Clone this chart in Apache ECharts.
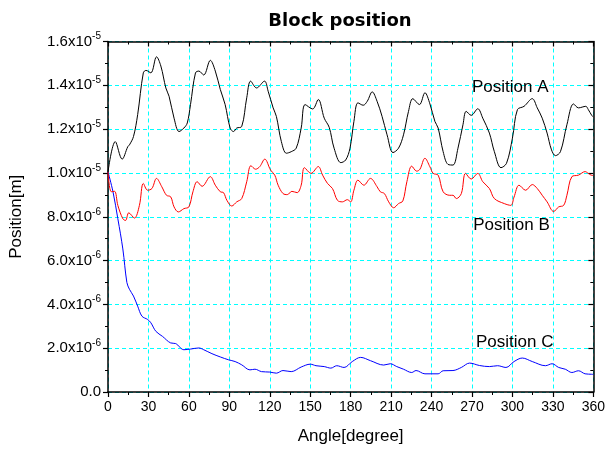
<!DOCTYPE html>
<html>
<head>
<meta charset="utf-8">
<script src="https://cdn.jsdelivr.net/npm/echarts@6/dist/echarts.min.js"></script>
<style>
  html, body { margin: 0; padding: 0; background: #fff; }
  #chart { width: 608px; height: 450px; }
</style>
</head>
<body>
<div id="chart"></div>
<script>
// Block displacement vs. crank angle; values are in units of 1e-6 m.
var anglesA = [0, 5.4, 10.5, 14.7, 15.9, 18.9, 22, 26.2, 28.2, 31.8, 36, 39.2, 42.9, 45.3, 49, 52.7, 56.3, 58.8,
  61.2, 64.9, 67.4, 71, 75.9, 79.6, 83.3, 86.9, 90.6, 93.1, 95.5, 99.2, 102.9, 105.8, 110.2, 116.1, 118.8,
  122.5, 124.9, 128.6, 132.3, 135.9, 139.6, 143.3, 146.2, 151.8, 156, 160.4, 164.1, 167.7, 172.7, 176.3,
  179.5, 182.4, 185.4, 189.3, 192.3, 196, 199.6, 203.3, 207, 211.4, 215.5, 219.2, 222.9, 226.1, 231, 235.1,
  238.8, 242.5, 244.9, 248.6, 252.2, 255.9, 259.6, 263.3, 265.7, 269.4, 274.3, 278, 282.9, 286.6, 291.5,
  295.6, 300, 303.7, 308.6, 314.7, 318.4, 322.1, 325.7, 329, 331.9, 335.6, 340.4, 345.3, 349, 354.4, 356.3,
  358.8, 360];
var valuesA = [10.05, 11.43, 10.63, 11.2, 11.28, 11.66, 12.66, 14.57, 14.68, 14.57, 15.3, 14.88, 13.88, 13.5,
  12.5, 11.89, 12.05, 12.28, 13.12, 14.57, 14.65, 14.47, 15.14, 14.65, 13.81, 13.12, 12.05, 11.89, 12.05,
  12.12, 13.43, 14.19, 13.88, 14.19, 13.73, 12.97, 12.58, 11.43, 10.9, 10.97, 11.13, 12.05, 13.12, 12.92,
  13.35, 12.5, 12.08, 11.13, 10.47, 10.59, 11.13, 12.35, 13.2, 13.09, 13.27, 13.7, 13.27, 12.58, 11.74,
  10.93, 11.13, 11.74, 12.81, 13.39, 13.12, 13.66, 13.15, 12.35, 12.05, 10.97, 10.39, 10.36, 11.13, 12.2,
  12.81, 12.63, 12.93, 12.5, 11.82, 10.97, 10.24, 10.44, 11.59, 12.89, 13.04, 13.39, 12.97, 12.5, 11.82,
  11.05, 10.79, 10.97, 12.2, 13.15, 12.97, 13.04, 12.89, 12.63, 12.55];

var anglesB = [0, 2.4, 4.9, 7.3, 11, 13, 15.4, 19.6, 23.3, 26.2, 29.4, 32.6, 36, 39.9, 43.4, 46.5, 49, 52.2,
  56.3, 60, 63, 66.1, 69.8, 75.9, 79.6, 83.3, 85.7, 88.2, 91.8, 95.5, 99.2, 102.9, 106, 109.5, 112.6, 116.3,
  120.6, 123.7, 126.2, 129.8, 133, 136.4, 140.3, 143.3, 145.7, 150.6, 156, 159.2, 162.8, 166.5, 170.2,
  173.9, 177.5, 180, 182.4, 185.4, 189.8, 194.7, 199.6, 202, 205, 208.2, 211.9, 215.5, 218.7, 221.7, 225.3,
  229, 231.4, 235.1, 238.8, 241.2, 244.9, 248.6, 253.5, 255.9, 258.4, 262.1, 265.2, 269.4, 274.3, 278,
  282.9, 286.6, 294, 298.8, 301.2, 304.9, 309.8, 314.7, 318.4, 322.1, 325.7, 330.6, 334.3, 338, 340.4,
  344.1, 349, 353.9, 356.3, 358.3, 360];
var valuesB = [10.05, 9.14, 9.16, 8.52, 7.91, 7.83, 8.18, 7.94, 8.52, 9.52, 9.21, 9.29, 9.75, 9.37, 8.98,
  8.91, 8.45, 8.22, 8.37, 8.45, 9.14, 9.6, 9.39, 9.83, 9.44, 9.14, 9.1, 8.75, 8.49, 8.68, 8.83, 9.6, 10.33,
  10.17, 10.29, 10.63, 10.13, 9.9, 9.44, 9.06, 9.01, 9.16, 9.1, 9.44, 10.24, 9.98, 10.29, 9.9, 9.52, 9.29,
  8.75, 8.68, 8.78, 8.68, 9.21, 9.67, 9.44, 9.75, 9.37, 9.14, 9.06, 8.68, 8.41, 8.6, 8.72, 9.6, 10.31,
  10.08, 10.17, 10.67, 10.28, 9.98, 9.9, 9.14, 8.98, 8.98, 8.83, 9.06, 9.98, 9.72, 9.98, 9.6, 9.29, 8.83,
  8.6, 8.52, 8.9, 9.44, 9.21, 9.47, 9.29, 8.98, 8.68, 8.24, 8.45, 8.52, 8.98, 9.83, 9.9, 10.06, 9.98, 9.9, 9.88];

var anglesC = [0, 3.7, 7.3, 11, 14, 15.9, 18.9, 22, 25.2, 29.4, 31.8, 35.5, 40.4, 46.5, 50.2, 56.3, 61.2,
  67.4, 71, 77.1, 83.3, 89.4, 94.3, 99.2, 105.3, 109, 113.9, 120, 124.9, 129.8, 135.9, 143.3, 150.1, 154.3,
  160.4, 165.3, 169.7, 175.1, 181.2, 187.4, 194.7, 204.5, 209.4, 214.2, 219.2, 225.3, 228.5, 235.1, 244.9,
  248.6, 255.9, 262.1, 268.2, 275.5, 282.9, 289, 295.2, 301.2, 307.3, 314.7, 324.5, 329.4, 334.3, 339.2,
  344.1, 349, 353.9, 358.8, 360];
var valuesC = [10.05, 9.14, 7.91, 6.53, 5.0, 4.69, 4.38, 3.92, 3.46, 3.31, 3.16, 2.77, 2.54, 2.24, 2.21, 1.93,
  1.96, 2.01, 1.93, 1.75, 1.6, 1.47, 1.39, 1.24, 1.01, 1.04, 0.93, 0.91, 0.86, 0.98, 0.93, 1.14, 1.27, 1.2,
  1.16, 1.09, 1.2, 1.12, 1.39, 1.58, 1.43, 1.23, 1.29, 1.16, 1.04, 0.89, 0.98, 0.83, 0.83, 0.97, 0.98, 1.12,
  1.32, 1.21, 1.16, 1.2, 1.12, 1.39, 1.55, 1.39, 1.2, 1.29, 1.12, 1.04, 0.89, 0.97, 0.83, 0.81, 0.8];

var xTicks = [0, 30, 60, 90, 120, 150, 180, 210, 240, 270, 300, 330, 360];
var yTickLabels = ['0.0', '2.0x10|-6', '4.0x10|-6', '6.0x10|-6', '8.0x10|-6',
  '1.0x10|-5', '1.2x10|-5', '1.4x10|-5', '1.6x10|-5'];

var seriesNames = ['Position A', 'Position B', 'Position C'];
var seriesColors = ['#000000', '#ff0000', '#0000ff'];
// label anchors in data coordinates [angle, value]
var labelAnchors = [[270, 13.93], [270.9, 7.63], [273, 2.25]];

function pairs(xs, ys) {
  return xs.map(function (x, i) { return [x, ys[i]]; });
}

var FONT = '"Liberation Sans", Arial, sans-serif';

var chart = echarts.init(document.getElementById('chart'));

var axisLine = { show: true, onZero: false, lineStyle: { color: '#000', width: 1.5 } };
var gridLine = { show: true, lineStyle: { color: '#00ffff', type: [4, 3], width: 1 } };

var option = {
  backgroundColor: '#fff',
  animation: false,
  title: {
    text: 'Block position',
    left: 335,
    textAlign: 'center',
    top: 7,
    textStyle: { fontFamily: '"DejaVu Sans", sans-serif', fontSize: 18, fontWeight: 'bold', color: '#000' }
  },
  // 41 px per 30 degrees and 44 px per 2e-6 keep the dashed grid on whole pixels
  grid: { left: 103.5, right: 12.5, top: 41.5, bottom: 56.5, containLabel: false },
  xAxis: [{
    type: 'value', min: 0, max: 360, interval: 30, position: 'bottom',
    name: 'Angle[degree]', nameLocation: 'middle', nameGap: 36,
    nameTextStyle: { fontFamily: FONT, fontSize: 17, color: '#000' },
    axisLine: axisLine,
    axisTick: { show: true, inside: false, length: 5, lineStyle: { color: '#000', width: 1.2 } },
    minorTick: { show: true, splitNumber: 2, length: 3, lineStyle: { color: '#000', width: 1 } },
    axisLabel: { fontFamily: FONT, fontSize: 14, color: '#000', margin: 8,
      formatter: function (v) { return xTicks.indexOf(v) >= 0 ? String(v) : ''; } },
    splitLine: gridLine
  }, {
    type: 'value', min: 0, max: 360, interval: 30, position: 'top',
    axisLine: axisLine,
    axisTick: { show: true, inside: true, length: 5, lineStyle: { color: '#000', width: 1.2 } },
    minorTick: { show: true, splitNumber: 2, length: 3, lineStyle: { color: '#000', width: 1 } },
    axisLabel: { show: false },
    splitLine: { show: false }
  }],
  yAxis: [{
    type: 'value', min: 0, max: 16, interval: 2, position: 'left',
    name: 'Position[m]', nameLocation: 'middle', nameGap: 83, nameRotate: 90,
    nameTextStyle: { fontFamily: FONT, fontSize: 17, color: '#000' },
    axisLine: axisLine,
    axisTick: { show: true, inside: false, length: 5, lineStyle: { color: '#000', width: 1.2 } },
    minorTick: { show: true, splitNumber: 2, length: 3, lineStyle: { color: '#000', width: 1 } },
    axisLabel: {
      fontFamily: FONT, fontSize: 15, color: '#000', margin: 7,
      formatter: function (v) {
        var t = yTickLabels[Math.round(v / 2)];
        if (!t) return '';
        var parts = t.split('|');
        if (parts.length === 1) return '{m|' + parts[0] + '}';
        return '{m|' + parts[0] + '}{s|' + parts[1] + '}';
      },
      rich: {
        m: { fontFamily: FONT, fontSize: 15, color: '#000' },
        s: { fontFamily: FONT, fontSize: 10, color: '#000', padding: [0, 0, 10, 0] }
      }
    },
    splitLine: gridLine
  }, {
    type: 'value', min: 0, max: 16, interval: 2, position: 'right',
    axisLine: axisLine,
    axisTick: { show: true, inside: true, length: 5, lineStyle: { color: '#000', width: 1.2 } },
    minorTick: { show: true, splitNumber: 2, length: 3, lineStyle: { color: '#000', width: 1 } },
    axisLabel: { show: false },
    splitLine: { show: false }
  }],
  series: [
    { name: seriesNames[0], data: pairs(anglesA, valuesA) },
    { name: seriesNames[1], data: pairs(anglesB, valuesB) },
    { name: seriesNames[2], data: pairs(anglesC, valuesC) }
  ].map(function (s, i) {
    return {
      name: s.name, type: 'line', data: s.data, xAxisIndex: 0, yAxisIndex: 0,
      showSymbol: false, smooth: 0.35, z: 10 - i,
      lineStyle: { color: seriesColors[i], width: 1 },
      itemStyle: { color: seriesColors[i] }
    };
  })
};

chart.setOption(option);

// curve labels placed at data positions
chart.setOption({
  graphic: labelAnchors.map(function (a, i) {
    var p = chart.convertToPixel({ xAxisIndex: 0, yAxisIndex: 0 }, a);
    return {
      type: 'text', x: p[0], y: p[1], z: 100,
      style: { text: seriesNames[i], fontFamily: FONT, fontSize: 17, fill: '#000',
        verticalAlign: 'middle' }
    };
  })
});
</script>
</body>
</html>
